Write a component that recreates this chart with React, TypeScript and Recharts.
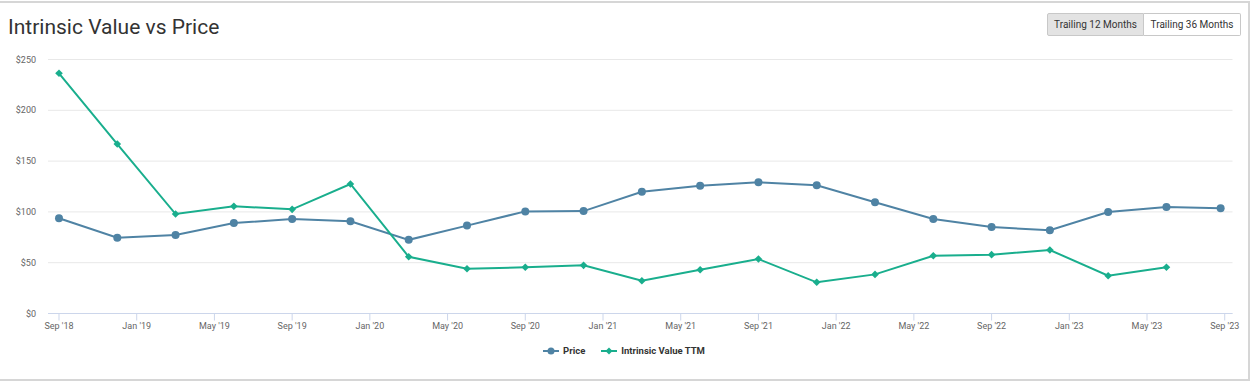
import React from 'react';
import { LineChart, Line, XAxis, YAxis, CartesianGrid } from 'recharts';

const priceDates = [
  '2018-09-01', '2018-12-01', '2019-03-01', '2019-06-01', '2019-09-01', '2019-12-01',
  '2020-03-01', '2020-06-01', '2020-09-01', '2020-12-01', '2021-03-01', '2021-06-01',
  '2021-09-01', '2021-12-01', '2022-03-01', '2022-06-01', '2022-09-01', '2022-12-01',
  '2023-03-01', '2023-06-01', '2023-08-25',
];
const priceValues = [
  93.7, 74.6, 77.3, 89.0, 93.0, 90.7, 72.5, 86.5, 100.5, 100.8, 119.8, 125.7,
  129.2, 126.3, 109.5, 93.0, 85.1, 81.9, 99.9, 104.8, 103.5,
];
const intrinsicValues = [
  236.4, 166.8, 97.9, 105.5, 102.5, 127.5, 55.8, 44.1, 45.5, 47.4, 32.3, 43.1,
  53.6, 30.7, 38.5, 56.9, 57.9, 62.5, 37.2, 45.5,
];
const xTickLabels = [
  "Sep '18", "Jan '19", "May '19", "Sep '19", "Jan '20", "May '20", "Sep '20", "Jan '21",
  "May '21", "Sep '21", "Jan '22", "May '22", "Sep '22", "Jan '23", "May '23", "Sep '23",
];
const yTicks = [0, 50, 100, 150, 200, 250];

const PRICE_COLOR = '#4f83a4';
const IV_COLOR = '#19ae8d';

const monthOffset = (d: string) => {
  const [y, m, day] = d.split('-').map(Number);
  return (y - 2018) * 12 + (m - 9) + (day - 1) / 30.4;
};

const data = priceDates.map((d, i) => ({
  m: monthOffset(d),
  price: priceValues[i],
  iv: i < intrinsicValues.length ? intrinsicValues[i] : null,
}));

const xTicks = xTickLabels.map((_, i) => i * 4);

const Diamond = (props: any) => {
  const { cx, cy, payload } = props;
  if (cx == null || cy == null || payload.iv == null) return <g />;
  const r = 3.8;
  return (
    <polygon
      points={`${cx},${cy - r} ${cx + r},${cy} ${cx},${cy + r} ${cx - r},${cy}`}
      fill={IV_COLOR}
    />
  );
};

const LegendBlock = () => (
  <div style={{ position: 'absolute', top: 345, left: -3, width: 1254, display: 'flex', justifyContent: 'center', alignItems: 'center', fontFamily: 'Roboto, sans-serif', fontSize: 9.5, fontWeight: 700, color: '#333' }}>
    <svg width={16} height={10} style={{ marginRight: 4 }}>
      <line x1={0} y1={5} x2={16} y2={5} stroke={PRICE_COLOR} strokeWidth={2} />
      <circle cx={8} cy={5} r={3.5} fill={PRICE_COLOR} />
    </svg>
    <span style={{ marginRight: 16 }}>Price</span>
    <svg width={16} height={10} style={{ marginRight: 4 }}>
      <line x1={0} y1={5} x2={16} y2={5} stroke={IV_COLOR} strokeWidth={2} />
      <polygon points="8,1.5 11.5,5 8,8.5 4.5,5" fill={IV_COLOR} />
    </svg>
    <span>Intrinsic Value TTM</span>
  </div>
);

export default function App() {
  return (
    <div style={{ position: 'absolute', left: 0, top: 0, width: 1254, height: 385, background: '#fff', overflow: 'hidden' }}>
      <div style={{ position: 'absolute', left: -2, top: 1, width: 1252, height: 380, border: '2px solid #d6d6d6', boxSizing: 'border-box' }} />
      <div style={{ position: 'absolute', left: 8, top: 14, fontFamily: 'Roboto, sans-serif', fontSize: 21, fontWeight: 400, color: '#333', lineHeight: '26px' }}>
        Intrinsic Value vs Price
      </div>
      <div style={{ position: 'absolute', left: 1047, top: 13, display: 'flex', fontFamily: 'Roboto, sans-serif', fontSize: 10, color: '#333' }}>
        <div style={{ width: 97, height: 23, boxSizing: 'border-box', border: '1px solid #c8c8c8', background: '#e3e3e3', display: 'flex', alignItems: 'center', justifyContent: 'center', borderRadius: '2px 0 0 2px' }}>Trailing 12 Months</div>
        <div style={{ width: 97, height: 23, boxSizing: 'border-box', border: '1px solid #c8c8c8', borderLeft: 'none', background: '#fff', display: 'flex', alignItems: 'center', justifyContent: 'center', borderRadius: '0 2px 2px 0' }}>Trailing 36 Months</div>
      </div>
      <div style={{ position: 'absolute', left: 0, top: 0 }}>
        <LineChart width={1254} height={385} data={data} margin={{ top: 59.5, right: 21.5, bottom: 41.5, left: 0 }}>
          <CartesianGrid vertical={false} stroke="#e8e8e8" />
          <XAxis
            dataKey="m"
            type="number"
            domain={[-0.566, 60.4]}
            allowDataOverflow
            ticks={xTicks}
            tickFormatter={(v: number) => xTickLabels[Math.round(v / 4)]}
            stroke="#ccd6eb"
            tickSize={7}
            tickMargin={2}
            height={30}
            tick={{ fill: '#666', fontSize: 9, fontFamily: 'Roboto, sans-serif' }}
            interval={0}
          />
          <YAxis
            domain={[0, 250]}
            ticks={yTicks}
            width={48}
            axisLine={false}
            tickLine={false}
            tickSize={0}
            tickMargin={12}
            tickFormatter={(v: number) => `$${v}`}
            tick={{ fill: '#666', fontSize: 9, fontFamily: 'Roboto, sans-serif' }}
          />
          <Line
            type="linear"
            dataKey="price"
            name="Price"
            stroke={PRICE_COLOR}
            strokeWidth={2}
            dot={{ r: 4, fill: PRICE_COLOR, stroke: PRICE_COLOR, strokeWidth: 0 }}
            activeDot={false}
            isAnimationActive={false}
          />
          <Line
            type="linear"
            dataKey="iv"
            name="Intrinsic Value TTM"
            stroke={IV_COLOR}
            strokeWidth={2}
            dot={<Diamond />}
            activeDot={false}
            isAnimationActive={false}
          />
        </LineChart>
      </div>
      <LegendBlock />
    </div>
  );
}
